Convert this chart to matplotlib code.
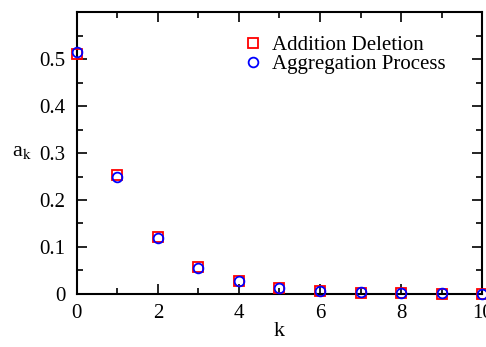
import numpy as np
import matplotlib
matplotlib.use("Agg")
from matplotlib import pyplot as plt
from matplotlib.ticker import MultipleLocator

k = [0, 1, 2, 3, 4, 5, 6, 7, 8, 9, 10]
addition_deletion = [0.510, 0.253, 0.121, 0.058, 0.028, 0.013, 0.006, 0.003, 0.0015, 0.0008, 0.0004]
aggregation = [0.516, 0.250, 0.118, 0.055, 0.027, 0.013, 0.007, 0.004, 0.002, 0.001, 0.0005]

plt.rcParams['font.family'] = ['Liberation Serif', 'DejaVu Serif']
plt.rcParams['mathtext.fontset'] = 'stix'

fig = plt.figure(figsize=(4.86, 3.47), dpi=100)
ax = fig.add_axes([0.158, 0.153, 0.834, 0.812])

ax.plot(k, addition_deletion, linestyle='none', marker='s', markersize=7,
        markerfacecolor='none', markeredgecolor='red', markeredgewidth=1.3,
        label='Addition Deletion', clip_on=False, zorder=3)
ax.plot(k, aggregation, linestyle='none', marker='o', markersize=7,
        markerfacecolor='none', markeredgecolor='blue', markeredgewidth=1.3,
        label='Aggregation Process', clip_on=False, zorder=4)

ax.set_xlim(0, 10)
ax.set_ylim(0, 0.6)
ax.xaxis.set_major_locator(MultipleLocator(2))
ax.xaxis.set_minor_locator(MultipleLocator(1))
ax.yaxis.set_minor_locator(MultipleLocator(0.05))
ax.set_yticks([0, 0.1, 0.2, 0.3, 0.4, 0.5])
ax.set_yticklabels(['0', '0.1', '0.2', '0.3', '0.4', '0.5'])
ax.tick_params(which='both', direction='in', top=True, right=True, width=1.2, labelsize=15)
ax.tick_params(which='major', length=7)
ax.tick_params(which='minor', length=4)
ax.tick_params(axis='x', pad=7)
ax.tick_params(axis='y', pad=8)
for s in ax.spines.values():
    s.set_linewidth(1.5)

ax.set_xlabel('k', fontsize=16, labelpad=0)
ax.xaxis.set_label_coords(0.5, -0.1)
ax.set_ylabel('a$_\\mathrm{k}$', fontsize=16, rotation=0)
ax.yaxis.set_label_coords(-0.135, 0.47)

leg = ax.legend(loc='upper right', bbox_to_anchor=(0.945, 0.968), frameon=False, fontsize=15,
                handletextpad=0.4, labelspacing=-0.05, handlelength=1.0, borderpad=0.2)

fig.savefig('out.png', dpi=100)
